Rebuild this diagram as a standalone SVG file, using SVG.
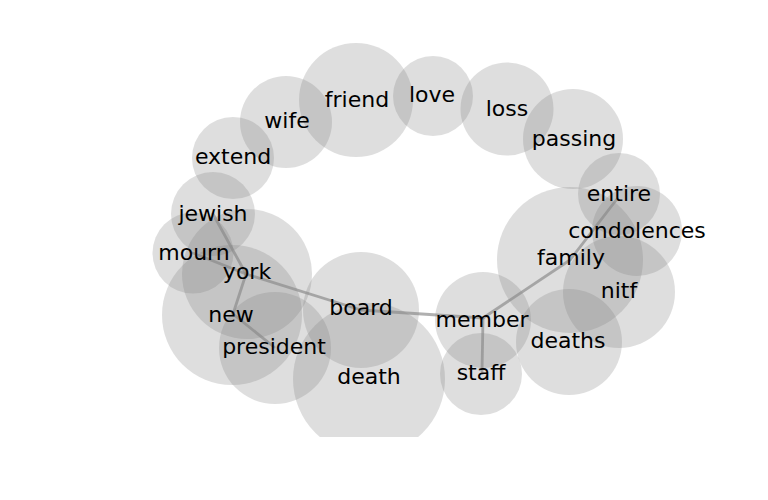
<svg xmlns="http://www.w3.org/2000/svg" width="768" height="500" viewBox="0 0 768 500">
<style>
.n circle{fill:#808080;fill-opacity:0.26;stroke:none}
#labels text{font-family:"DejaVu Sans",sans-serif;font-size:22px;fill:#000;text-anchor:middle}
#edges line{stroke:#898989;stroke-opacity:0.67;stroke-width:2.8;stroke-linecap:round}
</style>
<defs>
<clipPath id="ax"><rect x="0" y="0" width="768" height="437"/></clipPath>
</defs>
<rect width="768" height="500" fill="#fff"/>
<g clip-path="url(#ax)">
<g id="n-friend" class="n"><circle cx="356" cy="100" r="57"/></g>
<g id="n-love" class="n"><circle cx="433" cy="96" r="40"/></g>
<g id="n-wife" class="n"><circle cx="286" cy="122" r="46"/></g>
<g id="n-loss" class="n"><circle cx="507" cy="109" r="46.5"/></g>
<g id="n-passing" class="n"><circle cx="573" cy="139" r="50"/></g>
<g id="n-extend" class="n"><circle cx="233" cy="158" r="41"/></g>
<g id="n-jewish" class="n"><circle cx="213" cy="214" r="42"/></g>
<g id="n-mourn" class="n"><circle cx="193" cy="253" r="40.5"/></g>
<g id="n-york" class="n"><circle cx="247" cy="274" r="65"/></g>
<g id="n-new" class="n"><circle cx="232" cy="315" r="70"/></g>
<g id="n-president" class="n"><circle cx="275" cy="348" r="56"/></g>
<g id="n-board" class="n"><circle cx="361" cy="310" r="58"/></g>
<g id="n-death" class="n"><circle cx="369" cy="379" r="76"/></g>
<g id="n-member" class="n"><circle cx="483" cy="320" r="48"/></g>
<g id="n-staff" class="n"><circle cx="481" cy="374" r="41"/></g>
<g id="n-deaths" class="n"><circle cx="569" cy="342" r="53"/></g>
<g id="n-family" class="n"><circle cx="570" cy="260" r="73"/></g>
<g id="n-nitf" class="n"><circle cx="619" cy="292" r="56"/></g>
<g id="n-entire" class="n"><circle cx="619" cy="194" r="41"/></g>
<g id="n-condolences" class="n"><circle cx="637" cy="231" r="45"/></g>
</g>
<g id="edges">
<line x1="213" y1="214" x2="246" y2="274"/>
<line x1="193" y1="253" x2="246" y2="274"/>
<line x1="246" y1="274" x2="233" y2="314"/>
<line x1="233" y1="314" x2="274" y2="347"/>
<line x1="246" y1="274" x2="361" y2="310"/>
<line x1="361" y1="310" x2="483" y2="318"/>
<line x1="483" y1="318" x2="482" y2="372"/>
<line x1="483" y1="318" x2="570" y2="260"/>
<line x1="570" y1="260" x2="617" y2="199"/>
</g>
<g id="labels">
<text x="357" y="107">friend</text>
<text x="432" y="102">love</text>
<text x="287" y="128">wife</text>
<text x="507" y="116">loss</text>
<text x="574" y="146">passing</text>
<text x="233" y="164">extend</text>
<text x="213" y="221">jewish</text>
<text x="194" y="260">mourn</text>
<text x="247" y="279">york</text>
<text x="231" y="322">new</text>
<text x="274" y="354">president</text>
<text x="361" y="315">board</text>
<text x="369" y="384">death</text>
<text x="482" y="327">member</text>
<text x="481" y="380">staff</text>
<text x="568" y="348">deaths</text>
<text x="571" y="265">family</text>
<text x="619" y="298">nitf</text>
<text x="619" y="201">entire</text>
<text x="637" y="238">condolences</text>
</g>
</svg>
